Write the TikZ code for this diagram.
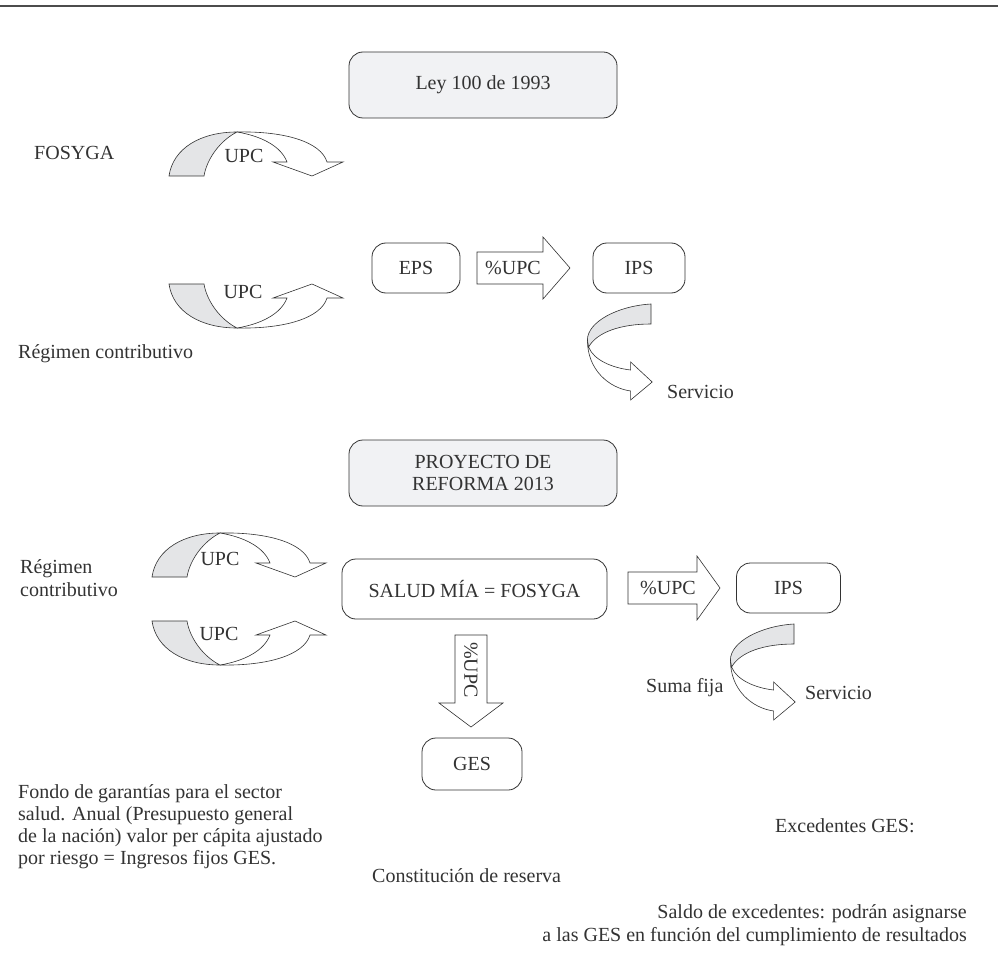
\documentclass[tikz,border=0pt]{standalone}
\usepackage{fontspec}
\setmainfont{Liberation Serif}
\definecolor{shd}{HTML}{E4E5E7}
\definecolor{boxfill}{HTML}{F1F2F4}
\definecolor{ink}{HTML}{333333}
\begin{document}
\begin{tikzpicture}[x=1pt,y=-1pt,
  lbl/.style={font=\fontsize{20}{22}\selectfont, inner sep=0pt, text=ink},
  rbox/.style={draw=ink, line width=0.8pt, rounded corners=14pt, font=\fontsize{20}{22}\selectfont, text=ink, inner sep=0pt, align=center},
  shp/.style={draw=ink, line width=0.6pt, line join=miter},
  curvUPC/.pic={
    \filldraw[shp, fill=shd] (-68,44) .. controls (-64,16) and (-36,0) .. (0,0) .. controls (-16,8) and (-30,26) .. (-33,44) -- cycle;
    \filldraw[shp, fill=white] (0,0) .. controls (48,-1) and (84,10) .. (90,30) -- (106,30) -- (75,44) -- (36,30) -- (50,30) .. controls (44,14) and (24,4) .. (0,0) -- cycle;
  },
  curvServ/.pic={
    \filldraw[shp, fill=white] (-53,36) .. controls (-53,66) and (-35,84) .. (-17,87) -- (-17,96) -- (1,78) -- (-17,58) -- (-17,66) .. controls (-32,64) and (-48,56) .. (-52,43) -- cycle;
    \filldraw[shp, fill=shd] (0,0) .. controls (-28,2) and (-53,18) .. (-53,36) -- (-52,43) .. controls (-45,28) and (-25,20) .. (0,20) -- cycle;
  }
]
\useasboundingbox (0,0) rectangle (998,968);
\fill[white] (0,0) rectangle (998,968);
\draw[gray!60!black, line width=2pt] (0,6) -- (998,6);

% ---------- Section 1 ----------
\node[rbox, fill=boxfill, minimum width=268pt, minimum height=66pt] (ley) at (483,85) {Ley 100 de 1993};

\node[lbl, anchor=base west] (fosyga) at (34,160) {FOSYGA};
\pic at (237,132) {curvUPC};
\node[lbl] (upcA) at (244,156) {UPC};
\pic[yscale=-1] at (237,328) {curvUPC};
\node[lbl] (upcB) at (243,292) {UPC};

\node[rbox, minimum width=88pt, minimum height=50pt] (eps) at (416,268) {EPS};
\draw[shp] (477,252) -- (543,252) -- (543,237) -- (570,268) -- (543,299) -- (543,284) -- (477,284) -- cycle;
\node[lbl] (pupc1) at (513,268) {\%UPC};
\node[rbox, minimum width=92pt, minimum height=50pt] (ips1) at (639,268) {IPS};

\pic[xscale=1.2] at (651,304) {curvServ};
\node[lbl, anchor=base west] (serv1) at (667,398) {Servicio};
\node[lbl, anchor=base west] (reg1) at (18,358) {Régimen contributivo};

% ---------- Section 2 ----------
\node[rbox, fill=boxfill, minimum width=268pt, minimum height=66pt] (proy) at (483,473) {PROYECTO DE\\REFORMA 2013};

\node[lbl, anchor=base west] (reg2a) at (20,573) {Régimen};
\node[lbl, anchor=base west] (reg2b) at (20,596) {contributivo};
\pic at (220,533) {curvUPC};
\node[lbl] (upcC) at (220,559) {UPC};
\pic[yscale=-1] at (220,665) {curvUPC};
\node[lbl] (upcD) at (219,634) {UPC};

\node[rbox, minimum width=265pt, minimum height=60pt] (salud) at (474.5,589) {SALUD MÍA = FOSYGA};
\draw[shp] (628,572) -- (697,572) -- (697,556) -- (720,588) -- (697,620) -- (697,604) -- (628,604) -- cycle;
\node[lbl] (pupc2) at (668,588) {\%UPC};
\node[rbox, minimum width=104pt, minimum height=50pt] (ips2) at (788.5,588) {IPS};

\draw[shp] (455,635) -- (487,635) -- (487,703) -- (503,703) -- (471,727) -- (439,703) -- (455,703) -- cycle;
\node[lbl, rotate=-90] (pupc3) at (471,670) {\%UPC};
\node[rbox, minimum width=100pt, minimum height=52pt] (ges) at (472,764) {GES};

\pic[xscale=1.2] at (794,624) {curvServ};
\node[lbl, anchor=base west] (suma) at (646,692) {Suma fija};
\node[lbl, anchor=base west] (serv2) at (805,699) {Servicio};

\node[lbl, anchor=base west] (f1) at (18,798) {Fondo de garantías para el sector};
\node[lbl, anchor=base west] (f2) at (18,820) {salud. Anual (Presupuesto general};
\node[lbl, anchor=base west] (f3) at (18,842) {de la nación) valor per cápita ajustado};
\node[lbl, anchor=base west] (f4) at (18,864) {por riesgo = Ingresos fijos GES.};

\node[lbl, anchor=base west] (exc) at (775,832) {Excedentes GES:};
\node[lbl, anchor=base west] (cons) at (372,882) {Constitución de reserva};
\node[lbl, anchor=base east] (sal1) at (967,918) {Saldo de excedentes: podrán asignarse};
\node[lbl, anchor=base east] (sal2) at (967,941) {a las GES en función del cumplimiento de resultados};
\end{tikzpicture}
\end{document}
